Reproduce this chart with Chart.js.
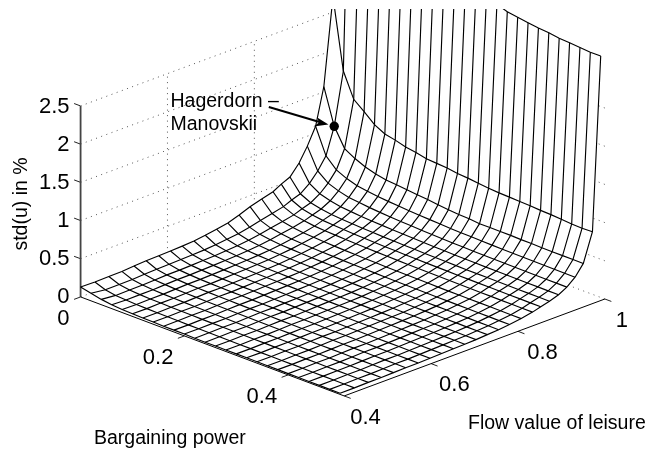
<!DOCTYPE html>
<html>
<head>
<meta charset="utf-8">
<title>std(u) surface</title>
<script src="https://cdn.jsdelivr.net/npm/chart.js@4"></script>
<style>
    html, body { margin: 0; padding: 0; background: #fff; }
    canvas { display: block; }
</style>
</head>
<body>
<canvas id="surface" width="648" height="454"></canvas>
<script>
// ---- Values ----
const bargaining = [0, .02, .04, .06, .08, .10, .12, .14, .16, .18, .20, .22, .24, .26, .28, .30, .32, .34, .36, .38, .40, .42, .44, .46, .48, .50];
const leisure = [.4, .433, .465, .495, .523, .551, .58, .607, .634, .661, .687, .713, .739, .765, .79, .817, .843, .862, .882, .903, .922, .941, .96, .981, 1];

// one row per leisure value, one column per bargaining value
const stdU = [
    [.13, .10, .07, .05, .04, .035, .03, .03, .025, .025, .025, .02, .02, .02, .02, .02, .02, .02, .018, .018, .017, .017, .016, .016, .015, .015],
    [.125, .075, .052, .042, .036, .032, .03, .028, .026, .024, .023, .022, .021, .02, .019, .019, .018, .018, .017, .017, .017, .016, .016, .016, .015, .015],
    [.13, .077, .056, .046, .04, .037, .034, .032, .03, .028, .027, .026, .025, .024, .023, .023, .022, .022, .021, .021, .021, .021, .02, .02, .02, .02],
    [.133, .079, .057, .047, .04, .037, .034, .032, .03, .028, .027, .026, .025, .024, .023, .023, .022, .022, .021, .021, .021, .021, .02, .02, .02, .02],
    [.144, .087, .064, .054, .046, .043, .04, .037, .036, .034, .033, .032, .03, .029, .029, .028, .027, .027, .026, .026, .026, .026, .025, .025, .025, .025],
    [.154, .094, .071, .06, .052, .049, .046, .043, .041, .039, .038, .037, .036, .034, .034, .033, .032, .032, .031, .031, .031, .031, .03, .03, .03, .03],
    [.158, .097, .072, .061, .053, .049, .046, .043, .042, .04, .038, .037, .036, .034, .034, .033, .033, .032, .032, .031, .031, .031, .031, .03, .03, .03],
    [.163, .102, .077, .066, .058, .054, .051, .048, .047, .045, .043, .042, .041, .039, .039, .038, .038, .037, .037, .036, .036, .036, .036, .035, .035, .035],
    [.17, .108, .083, .071, .063, .06, .056, .054, .052, .05, .048, .047, .046, .045, .044, .043, .043, .042, .042, .041, .041, .041, .041, .04, .04, .04],
    [.18, .115, .09, .077, .069, .065, .062, .059, .057, .055, .054, .052, .051, .05, .049, .048, .048, .047, .047, .046, .046, .046, .046, .045, .045, .045],
    [.20, .128, .10, .086, .077, .073, .069, .066, .064, .061, .06, .058, .057, .055, .055, .054, .053, .052, .052, .052, .051, .051, .051, .05, .05, .05],
    [.225, .143, .111, .096, .086, .081, .076, .073, .07, .068, .066, .064, .063, .061, .06, .059, .058, .058, .057, .057, .056, .056, .056, .055, .055, .055],
    [.25, .161, .126, .109, .098, .093, .088, .084, .082, .079, .077, .075, .073, .071, .071, .07, .069, .068, .067, .067, .066, .066, .066, .065, .065, .065],
    [.30, .192, .149, .129, .116, .109, .103, .099, .095, .092, .09, .087, .085, .083, .082, .081, .08, .078, .078, .077, .077, .076, .076, .075, .075, .075],
    [.356, .228, .178, .154, .138, .13, .123, .118, .114, .11, .107, .105, .102, .099, .098, .097, .095, .094, .093, .093, .092, .092, .091, .091, .09, .09],
    [.40, .261, .206, .18, .162, .154, .146, .14, .136, .132, .129, .126, .123, .12, .119, .117, .116, .114, .113, .113, .112, .112, .111, .111, .11, .11],
    [.44, .296, .239, .212, .194, .185, .178, .172, .167, .163, .16, .157, .154, .151, .149, .148, .146, .145, .144, .143, .142, .142, .141, .141, .14, .14],
    [.50, .342, .279, .249, .229, .22, .211, .205, .2, .195, .191, .188, .185, .182, .18, .178, .177, .175, .174, .173, .173, .172, .171, .171, .17, .17],
    [.55, .382, .316, .284, .263, .253, .244, .237, .232, .226, .223, .219, .216, .212, .211, .209, .207, .205, .204, .204, .203, .202, .201, .201, .2, .2],
    [.69, .474, .389, .348, .321, .308, .296, .287, .281, .274, .269, .265, .26, .256, .254, .251, .249, .247, .245, .245, .244, .243, .242, .241, .24, .24],
    [.87, .596, .488, .437, .403, .386, .371, .36, .351, .343, .337, .331, .326, .32, .317, .314, .311, .309, .307, .306, .305, .303, .302, .301, .301, .30],
    [1.09, .754, .621, .558, .516, .495, .478, .464, .453, .443, .436, .429, .422, .415, .411, .408, .404, .401, .398, .397, .396, .394, .393, .391, .391, .39],
    [1.57, 1.10, .86, .78, .72, .68, .653, .64, .626, .613, .60, .584, .57, .557, .553, .54, .54, .54, .54, .535, .535, .53, .53, .53, .53, .53],
    [2.7, 1.78, 1.46, 1.35, 1.23, 1.16, 1.13, 1.09, 1.07, 1.04, 1.03, 1.02, 1.00, .99, .975, .96, .95, .945, .94, .935, .925, .92, .91, .90, .895, .90],
    [7.5, 6.0, 4.9, 4.5, 4.3, 4.2, 4.1, 4.0, 3.9, 3.8, 3.7, 3.6, 3.5, 3.45, 3.4, 3.33, 3.28, 3.26, 3.24, 3.22, 3.21, 3.19, 3.18, 3.17, 3.16, 3.16]
];

const zTicks = [0, .5, 1, 1.5, 2, 2.5];
const zTickLabels = ["0", "0.5", "1", "1.5", "2", "2.5"];
const bTicks = [0, .2, .4];
const bTickLabels = ["0", "0.2", "0.4"];
const lTicks = [.4, .6, .8, 1];
const lTickLabels = ["0.4", "0.6", "0.8", "1"];

// Hagerdorn-Manovskii calibration, sits on a mesh vertex
const hmPoint = { b: .02, l: .96, z: 1.10 };

const bMax = .508;
const lMin = .4;
const lMax = 1;

// ---- View: same fixed 3D view as the original figure ----
function project(b, l, z) {
    return {
        x: 77 + 526.6 * b + 440.8 * (l - lMin),
        y: 300 + 197 * b - 163.3 * (l - lMin) - 77.2 * z
    };
}

function lineSet(points, color, width, dash) {
    return {
        data: points,
        showLine: true,
        pointRadius: 0,
        borderColor: color,
        borderWidth: width,
        borderDash: dash || [],
        tension: 0,
        fill: false,
        clip: 0
    };
}

function filledSet(points, color) {
    return {
        data: points,
        showLine: true,
        pointRadius: 0,
        borderWidth: 0,
        borderColor: color,
        backgroundColor: color,
        tension: 0,
        fill: "shape",
        clip: 0
    };
}

// ---- Mesh lines, both directions ----
const MESH_WIDTH = 1.15;
const meshSets = [];
bargaining.forEach((b, i) => {
    meshSets.push(lineSet(leisure.map((l, j) => project(b, l, stdU[j][i])), "#000", MESH_WIDTH));
});
leisure.forEach((l, j) => {
    meshSets.push(lineSet(bargaining.map((b, i) => project(b, l, stdU[j][i])), "#000", MESH_WIDTH));
});

// ---- White surface hides the grid behind it ----
const lastB = bargaining.length - 1;
const lastL = leisure.length - 1;
const outline = [];
leisure.forEach((l, j) => outline.push(project(bargaining[0], l, stdU[j][0])));
bargaining.forEach((b, i) => outline.push(project(b, leisure[lastL], stdU[lastL][i])));
for (let j = lastL; j >= 0; j--) outline.push(project(bargaining[lastB], leisure[j], stdU[j][lastB]));
for (let i = lastB; i >= 0; i--) outline.push(project(bargaining[i], leisure[0], stdU[0][i]));

// ---- Dotted box grid ----
const DOTS = [1, 4.5];
const DOT_COLOR = "#555";
const gridSets = [];
zTicks.forEach(z => {
    gridSets.push(lineSet([project(0, lMin, z), project(0, lMax, z)], DOT_COLOR, 1, DOTS));
    gridSets.push(lineSet([project(0, lMax, z), project(bMax, lMax, z)], DOT_COLOR, 1, DOTS));
});
lTicks.slice(1, 3).forEach(l => {
    gridSets.push(lineSet([project(0, l, 0), project(0, l, 2.5)], DOT_COLOR, 1, DOTS));
});

// ---- Axis lines and ticks ----
const axisSets = [
    lineSet([project(0, lMin, 0), project(bMax, lMin, 0)], "#000", 1),
    lineSet([project(bMax, lMin, 0), project(bMax, lMax, 0)], "#000", 1),
    lineSet([project(0, lMin, 0), project(0, lMin, 2.5)], "#444", 1.8)
];
zTicks.slice(1).forEach(z => {
    axisSets.push(lineSet([project(0, lMin, z), project(-.0125, lMin, z)], "#222", 1));
});
bTicks.forEach(b => {
    axisSets.push(lineSet([project(b, lMin, 0), project(b, lMin - .015, 0)], "#222", 1));
});
lTicks.forEach(l => {
    axisSets.push(lineSet([project(bMax, l, 0), project(bMax + .0125, l, 0)], "#222", 1));
});

// ---- Annotation: arrow and marker ----
const arrowSets = [
    lineSet([{ x: 268, y: 108 }, { x: 322, y: 124 }], "#000", 2),
    filledSet([{ x: 328.5, y: 125.8 }, { x: 316.7, y: 118.3 }, { x: 319, y: 123.8 }, { x: 313.3, y: 127.7 }], "#000")
];
const hmPixel = project(hmPoint.b, hmPoint.l, hmPoint.z);
const markerSet = {
    data: [hmPixel],
    pointRadius: 4.7,
    pointBackgroundColor: "#000",
    pointBorderColor: "#000",
    pointBorderWidth: 0,
    clip: 0
};

// ---- Tick labels and titles ----
const TICK_FONT = 22;
const TITLE_FONT = 19.5;
const textPlugin = {
    id: "figureText",
    afterDraw(chart) {
        const { ctx, scales } = chart;
        const px = p => ({ x: scales.x.getPixelForValue(p.x), y: scales.y.getPixelForValue(p.y) });

        function put(text, x, y, align, size) {
            ctx.font = size + 'px "Liberation Sans", Arial, sans-serif';
            ctx.textAlign = align;
            ctx.textBaseline = "middle";
            ctx.fillStyle = "#000";
            ctx.fillText(text, x, y);
        }

        ctx.save();
        zTicks.forEach((z, k) => {
            const p = px(project(0, lMin, z));
            put(zTickLabels[k], p.x - 11, p.y + 0.5, "right", TICK_FONT);
        });
        bTicks.forEach((b, k) => {
            const p = px(project(b, lMin, 0));
            put(bTickLabels[k], p.x - 11, p.y + 22, "right", TICK_FONT);
        });
        const lLabelShift = [6, 8, 9.2, 11];
        lTicks.forEach((l, k) => {
            const p = px(project(bMax, l, 0));
            put(lTickLabels[k], p.x + lLabelShift[k], p.y + 21.5, "left", TICK_FONT);
        });

        put("Bargaining power", 94, 439, "left", TITLE_FONT);
        put("Flow value of leisure", 468, 424, "left", TITLE_FONT);
        put("Hagerdorn \u2013", 170.5, 102, "left", TITLE_FONT);
        put("Manovskii", 170.5, 125, "left", TITLE_FONT);

        ctx.translate(22, 204);
        ctx.rotate(-Math.PI / 2);
        put("std(u) in %", 0, 0, "center", TITLE_FONT);
        ctx.restore();
    }
};

// first dataset is drawn last, so the list runs from front to back
new Chart(document.getElementById("surface"), {
    type: "scatter",
    data: {
        datasets: [
            markerSet,
            ...arrowSets,
            ...meshSets,
            filledSet(outline, "#fff"),
            ...axisSets,
            ...gridSets
        ]
    },
    options: {
        responsive: false,
        animation: false,
        layout: { padding: { top: 9 } },
        plugins: { legend: { display: false }, tooltip: { enabled: false } },
        scales: {
            x: { type: "linear", display: false, min: 0, max: 648 },
            y: { type: "linear", display: false, min: 9, max: 454, reverse: true }
        }
    },
    plugins: [textPlugin]
});
</script>
</body>
</html>
